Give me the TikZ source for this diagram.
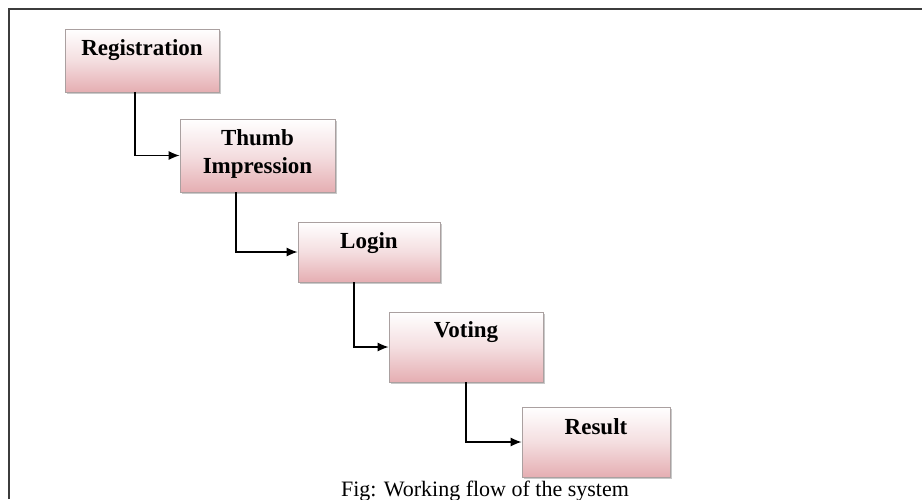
\documentclass[tikz,border=0pt]{standalone}
\usepackage{fontspec}
\setmainfont{Liberation Serif}
\usetikzlibrary{arrows.meta,shadows}
\definecolor{boxpink}{RGB}{229,174,178}
\definecolor{boxmid}{RGB}{244,222,224}
\definecolor{boxline}{RGB}{170,160,160}
\definecolor{framegray}{RGB}{60,60,60}
\begin{document}
\begin{tikzpicture}[x=1pt,y=-1pt,
  stepbox/.style={draw=boxline, line width=0.8pt, inner sep=0pt,
    top color=white, bottom color=boxpink, middle color=boxmid,
    drop shadow={shadow xshift=1.5pt, shadow yshift=-2pt, opacity=0.35, fill=black!60}},
  boxtext/.style={font=\fontsize{23}{28}\selectfont\bfseries, align=center, inner sep=0pt},
  flow/.style={line width=1.3pt, -{Latex[length=11pt,width=9pt]}}]
\useasboundingbox (0,0) rectangle (922,499);
\fill[white] (0,0) rectangle (922,499);
\draw[framegray, line width=2pt] (9,499) -- (9,9) -- (922,9);
% boxes
\node[stepbox, minimum width=154pt, minimum height=63pt] (reg) at (142,60.5) {};
\node[stepbox, minimum width=155pt, minimum height=73pt] (thumb) at (257.5,155.5) {};
\node[stepbox, minimum width=142pt, minimum height=60pt] (login) at (369,252) {};
\node[stepbox, minimum width=154pt, minimum height=70pt] (vote) at (466,347) {};
\node[stepbox, minimum width=148pt, minimum height=70pt] (res) at (596,442) {};
% texts
\node[boxtext] (regt) at (142,50) {Registration};
\node[boxtext] (thumbt) at (257.5,154) {Thumb\\Impression};
\node[boxtext] (logint) at (369,243) {Login};
\node[boxtext] (votet) at (466,332) {Voting};
\node[boxtext] (rest) at (596,427) {Result};
% connectors
\coordinate (c1) at ([xshift=-7pt]reg.south);
\coordinate (c2) at ([xshift=-21.5pt]thumb.south);
\coordinate (c3) at ([xshift=-15pt]login.south);
\coordinate (c4) at (vote.south);
\draw[flow] (c1) |- (thumb.west);
\draw[flow] (c2) |- (login.west);
\draw[flow] (c3) |- (vote.west);
\draw[flow] (c4) |- (res.west);
% caption
\node[font=\fontsize{22}{26}\selectfont, anchor=base, inner sep=0pt] (cap) at (485,496) {Fig: Working flow of the system};
\end{tikzpicture}
\end{document}
